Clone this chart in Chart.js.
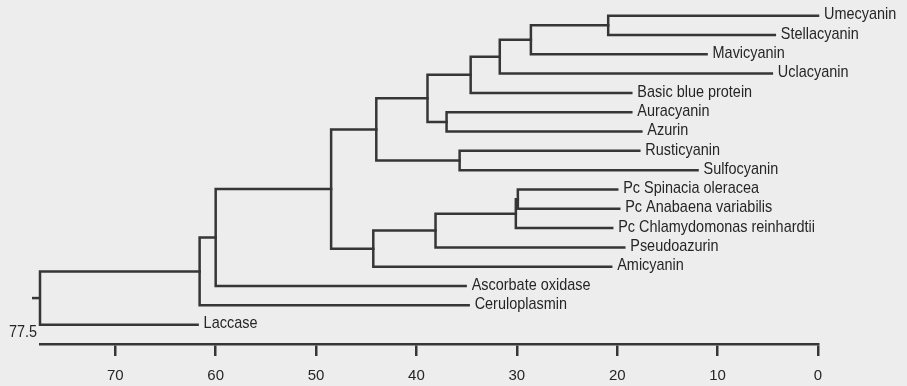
<!DOCTYPE html>
<html>
<head>
<meta charset="utf-8">
<script src="https://cdn.jsdelivr.net/npm/chart.js@4/dist/chart.umd.min.js"></script>
<style>
  html, body { margin: 0; padding: 0; background: #ededed; }
  #wrap { width: 907px; height: 386px; position: relative; }
</style>
</head>
<body>
<div id="wrap"><canvas id="tree"></canvas></div>
<script>
// leaves, top to bottom
var leaf_names = ['Umecyanin', 'Stellacyanin', 'Mavicyanin', 'Uclacyanin', 'Basic blue protein',
  'Auracyanin', 'Azurin', 'Rusticyanin', 'Sulfocyanin', 'Pc Spinacia oleracea',
  'Pc Anabaena variabilis', 'Pc Chlamydomonas reinhardtii', 'Pseudoazurin', 'Amicyanin',
  'Ascorbate oxidase', 'Ceruloplasmin', 'Laccase'];
// where each leaf branch ends on the distance axis
var leaf_dist = [0, 4.3, 11.1, 4.6, 18.6, 18.6, 17.6, 17.8, 12.0, 20.0, 19.8, 20.5, 19.3, 20.6, 35.1, 34.8, 61.8];

// joins: child a, child b (ids >= 17 are earlier joins), distance of the join
var join_a = [0, 17, 18, 19, 5, 20, 7, 22, 9, 25, 26, 27, 24, 29, 30, 31];
var join_b = [1, 2, 3, 4, 6, 21, 8, 23, 10, 11, 12, 13, 28, 14, 15, 16];
var join_dist = [20.9, 28.6, 31.7, 34.6, 37.0, 38.9, 35.7, 44.0, 29.9, 30.1, 38.1, 44.3, 48.5, 60.0, 61.6, 77.5];

var axis_max = 77.5;
var axis_ticks = [70, 60, 50, 40, 30, 20, 10, 0];
var root_stub = 0.8;

var ink = '#363636';
var n_leaf = leaf_names.length;
var node_x = leaf_dist.slice();
var node_y = leaf_names.map(function (_, i) { return i; });
for (var k = 0; k < join_a.length; k++) {
  node_x.push(join_dist[k]);
  node_y.push((node_y[join_a[k]] + node_y[join_b[k]]) / 2);
}

var datasets = [];
for (var k = 0; k < join_a.length; k++) {
  var a = join_a[k], b = join_b[k], h = join_dist[k];
  datasets.push({
    data: [
      {x: node_x[a], y: node_y[a]},
      {x: h, y: node_y[a]},
      {x: h, y: node_y[b]},
      {x: node_x[b], y: node_y[b]}
    ],
    showLine: true, borderColor: ink, borderWidth: 2.5, pointRadius: 0,
    borderCapStyle: 'square', borderJoinStyle: 'miter', clip: false, tension: 0
  });
}
var root = node_y.length - 1;
datasets.push({
  data: [{x: node_x[root], y: node_y[root]}, {x: node_x[root] + root_stub, y: node_y[root]}],
  showLine: true, borderColor: ink, borderWidth: 2.5, pointRadius: 0, clip: false
});

// condensed look: draw 17px Liberation Sans squeezed horizontally
function narrow_text(ctx, text, x, y, align) {
  ctx.save();
  ctx.translate(x, y);
  ctx.scale(0.85, 1);
  ctx.textAlign = align;
  ctx.fillText(text, 0, 0);
  ctx.restore();
}

const leaf_labels = {
  id: 'leaf_labels',
  afterDatasetsDraw: function (chart) {
    var ctx = chart.ctx, xs = chart.scales.x, ys = chart.scales.y;
    ctx.save();
    ctx.fillStyle = '#262626';
    ctx.font = '17px "Liberation Sans", Arial, sans-serif';
    ctx.textBaseline = 'middle';
    for (var i = 0; i < n_leaf; i++) {
      narrow_text(ctx, leaf_names[i], xs.getPixelForValue(leaf_dist[i]) + 6, ys.getPixelForValue(i) - 1, 'left');
    }
    narrow_text(ctx, String(axis_max), xs.getPixelForValue(axis_max) - 3, chart.chartArea.bottom - 12, 'right');
    ctx.restore();
  }
};

Chart.defaults.font.family = '"Liberation Sans", Arial, sans-serif';

const tree_chart = new Chart(document.getElementById('tree'), {
  type: 'scatter',
  data: { datasets: datasets },
  options: {
    responsive: true,
    maintainAspectRatio: false,
    animation: false,
    layout: { padding: { left: 40, right: 89, top: 6, bottom: -9 } },
    plugins: { legend: { display: false }, tooltip: { enabled: false } },
    scales: {
      x: {
        type: 'linear', reverse: true, min: 0, max: axis_max,
        afterBuildTicks: function (scale) {
          scale.ticks = axis_ticks.map(function (v) { return {value: v}; });
        },
        ticks: { color: '#262626', font: { size: 15, lineHeight: 1 }, padding: 12, maxRotation: 0 },
        grid: { drawOnChartArea: false, drawTicks: true, tickLength: 12, color: ink, lineWidth: 2.5 },
        border: { display: true, color: ink, width: 2.5 }
      },
      y: { type: 'linear', reverse: true, min: -0.5, max: 17, display: false }
    }
  },
  plugins: [leaf_labels]
});
</script>
</body>
</html>
